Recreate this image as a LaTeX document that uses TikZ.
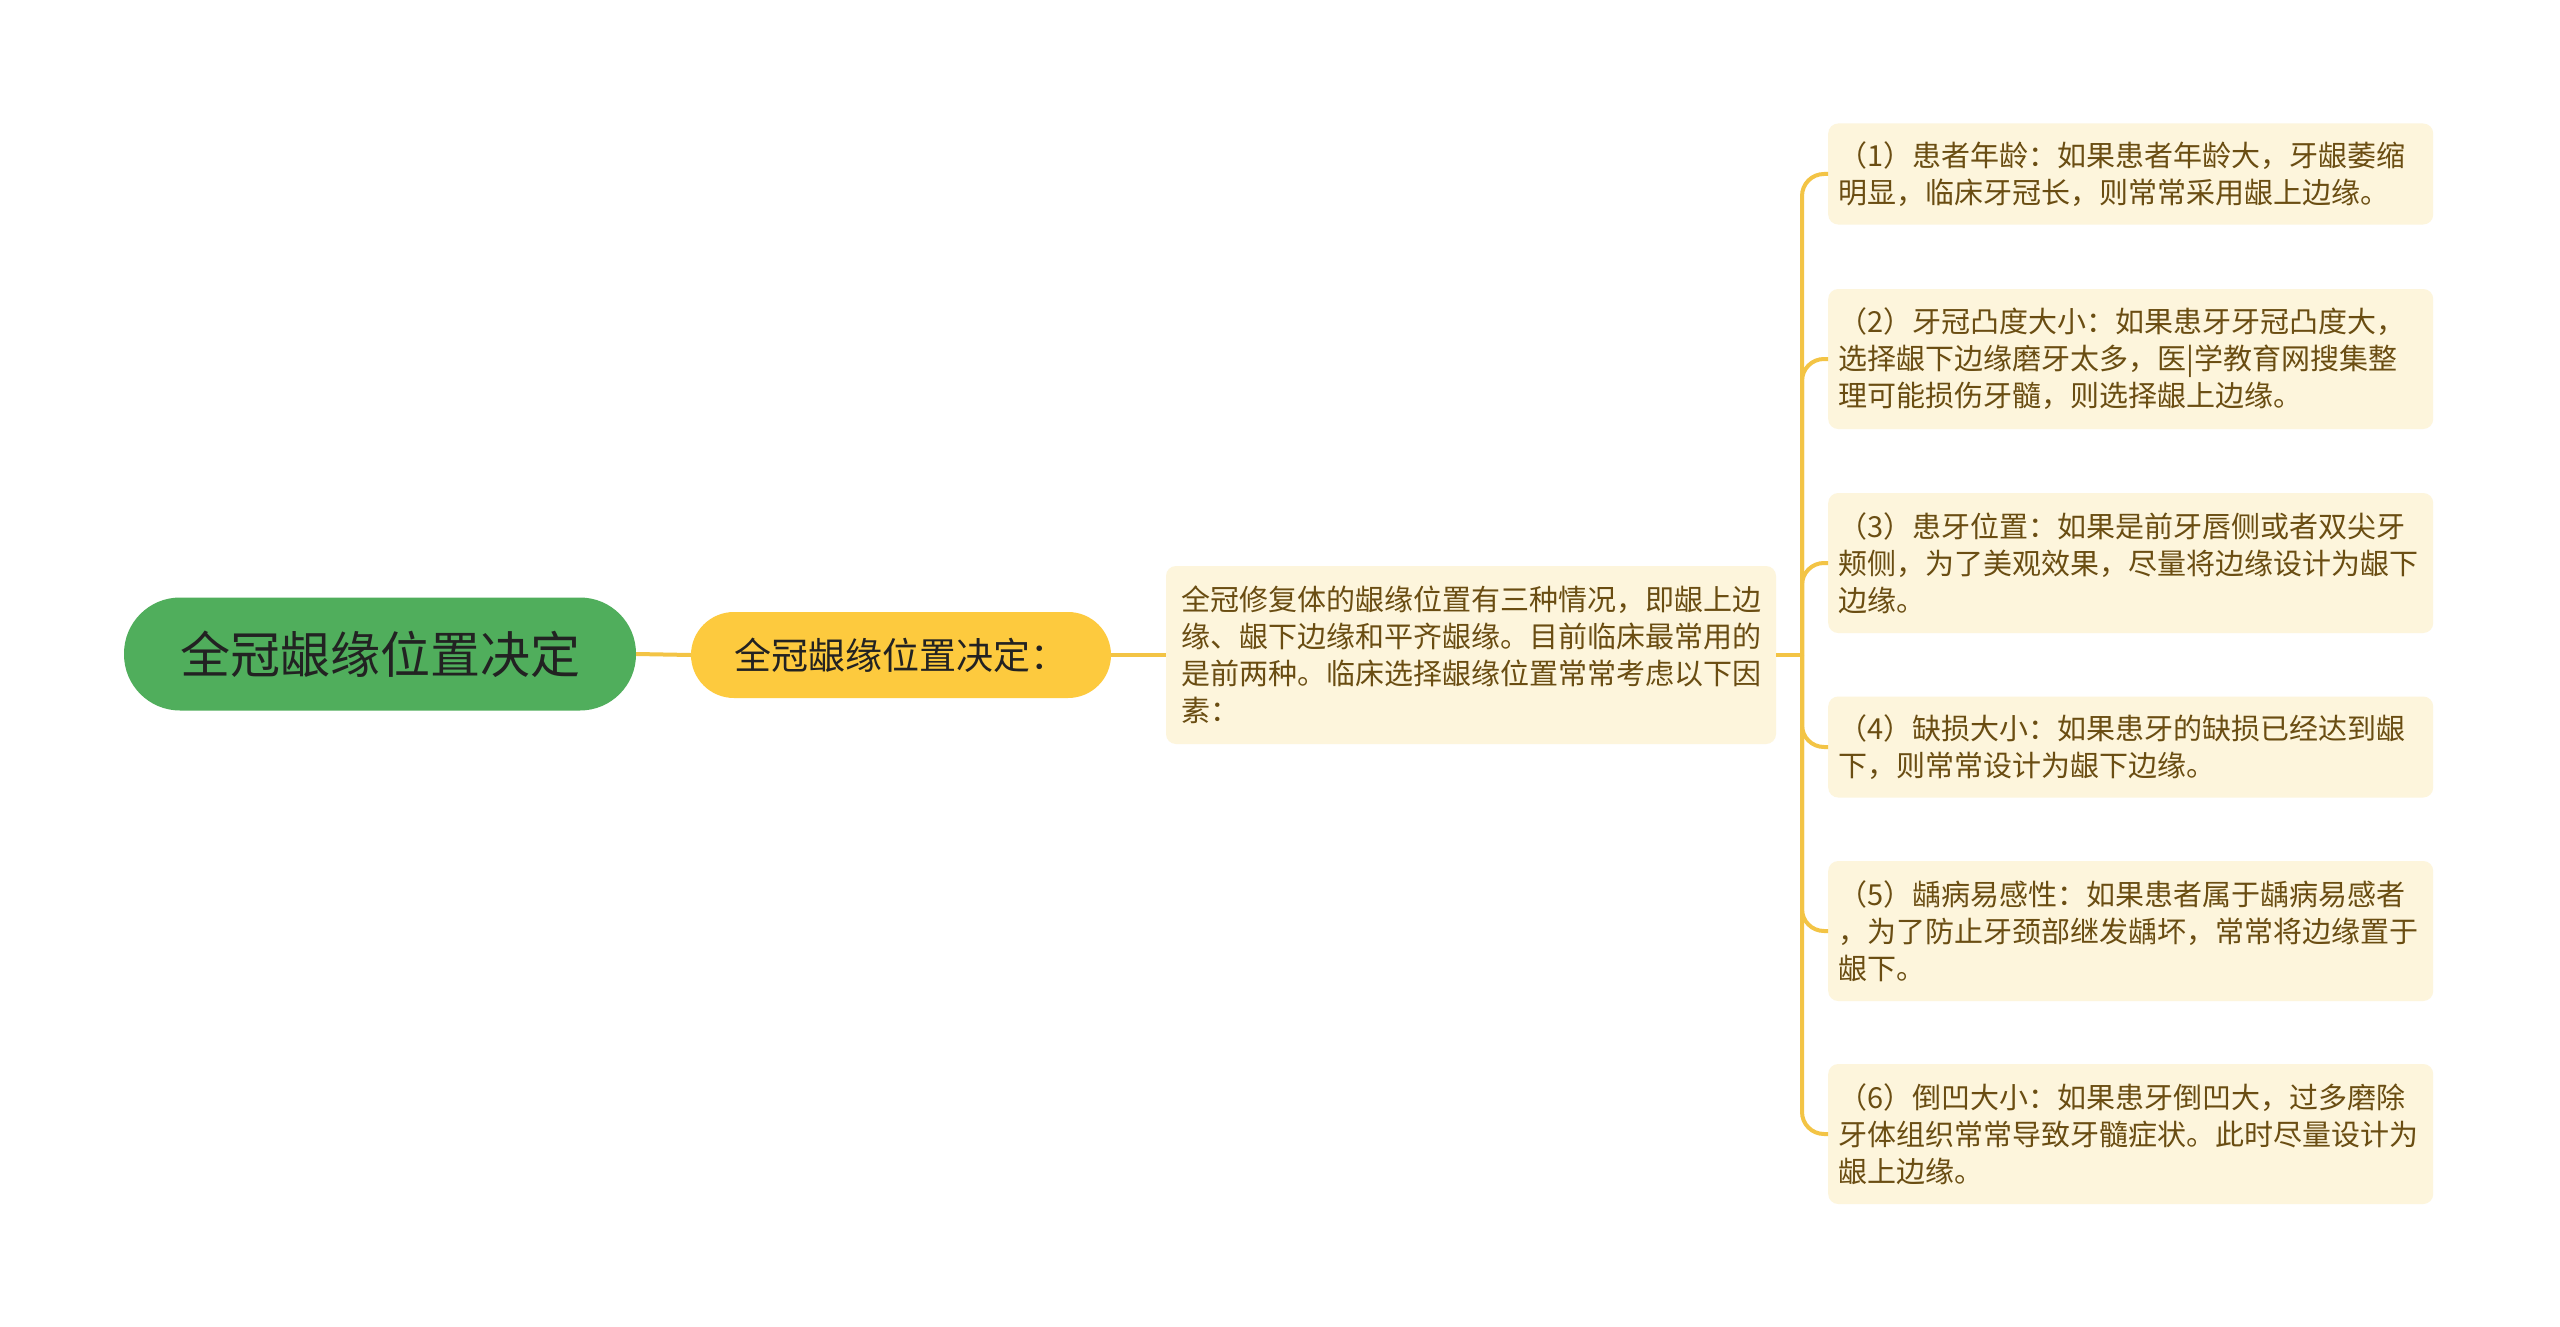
\documentclass[tikz,border=0pt]{standalone}
\usepackage{fontspec}
\newfontfamily\cjk{Noto Sans CJK SC}
\definecolor{rootgreen}{HTML}{50AE5C}
\definecolor{subyellow}{HTML}{FDCA3E}
\definecolor{cream}{HTML}{FDF5DC}
\definecolor{cardtext}{HTML}{6A4D12}
\definecolor{darktext}{HTML}{222222}
\definecolor{linkcol}{HTML}{F3C445}
\begin{document}
\begin{tikzpicture}[x=1pt,y=-1pt,
  rootnode/.style={rounded corners=56pt, fill=rootgreen, minimum width=512pt, minimum height=113pt, inner sep=0pt, font=\cjk\fontsize{50}{58}\selectfont, text=darktext},
  subnode/.style={rounded corners=43pt, fill=subyellow, minimum width=420pt, minimum height=86pt, inner sep=0pt, font=\cjk\fontsize{37}{44}\selectfont, text=darktext},
  midcard/.style={rounded corners=10pt, fill=cream, text width=580pt, inner xsep=15pt, inner ysep=0pt, minimum height=178pt, align=left, font=\cjk\fontsize{29}{37}\selectfont, text=cardtext},
  card/.style={rounded corners=10pt, fill=cream, anchor=west, text width=585pt, inner xsep=10pt, inner ysep=0pt, align=left, font=\cjk\fontsize{29}{37}\selectfont, text=cardtext},
  two/.style={minimum height=101pt},
  three/.style={minimum height=140pt},
  link/.style={draw=linkcol, line width=4pt},
  branch/.style={link, rounded corners=22pt}
]
\useasboundingbox (0,0) rectangle (2560,1327);
\fill[white] (0,0) rectangle (2560,1327);

\node[rootnode] (r) at (380,654) {全冠龈缘位置决定};
\node[subnode] (s) at (901,655) {全冠龈缘位置决定：};
\node[midcard] (m) at (1471,655) {全冠修复体的龈缘位置有三种情况，即龈上边\\缘、龈下边缘和平齐龈缘。目前临床最常用的\\是前两种。临床选择龈缘位置常常考虑以下因\\素：};

\node[card,two] (c1) at (1828,174) {（1）患者年龄：如果患者年龄大，牙龈萎缩\\明显，临床牙冠长，则常常采用龈上边缘。};
\node[card,three] (c2) at (1828,359) {（2）牙冠凸度大小：如果患牙牙冠凸度大，\\选择龈下边缘磨牙太多，医|学教育网搜集整\\理可能损伤牙髓，则选择龈上边缘。};
\node[card,three] (c3) at (1828,563) {（3）患牙位置：如果是前牙唇侧或者双尖牙\\颊侧，为了美观效果，尽量将边缘设计为龈下\\边缘。};
\node[card,two] (c4) at (1828,747) {（4）缺损大小：如果患牙的缺损已经达到龈\\下，则常常设计为龈下边缘。};
\node[card,three] (c5) at (1828,931) {（5）龋病易感性：如果患者属于龋病易感者\\，为了防止牙颈部继发龋坏，常常将边缘置于\\龈下。};
\node[card,three] (c6) at (1828,1134) {（6）倒凹大小：如果患牙倒凹大，过多磨除\\牙体组织常常导致牙髓症状。此时尽量设计为\\龈上边缘。};

\coordinate (j) at (1802,655);
\draw[link] (r.east) -- (s.west);
\draw[link] (s.east) -- (m.west);
\draw[link] (m.east) -- (j);
\foreach \c in {c1,c2,c3,c4,c5,c6}{
  \draw[branch] (j) -- (j |- \c.west) -- (\c.west);
}
\end{tikzpicture}
\end{document}
